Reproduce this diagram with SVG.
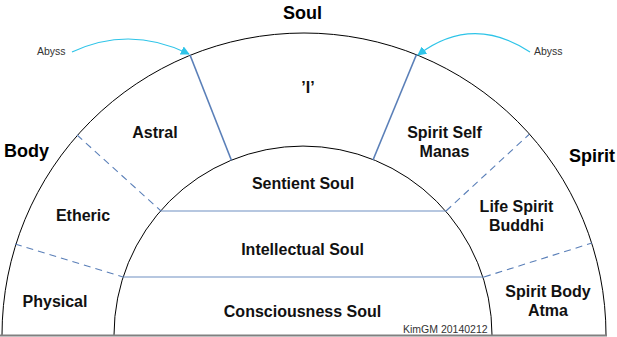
<svg xmlns="http://www.w3.org/2000/svg" width="617" height="337" viewBox="0 0 617 337">
<defs>
<marker id="ah" viewBox="0 0 10 10" refX="9" refY="5" markerWidth="9" markerHeight="9" markerUnits="userSpaceOnUse" orient="auto">
<path d="M0,0 L10,5 L0,10 z" fill="#2ec4e8"/>
</marker>
</defs>
<style>
.arc{fill:none;stroke:#000;stroke-width:1}
.solid{stroke:#5a7fb8;stroke-width:1.6;fill:none}
.hl{stroke:#6f8fc2;stroke-width:1.2;fill:none}
.dash{stroke:#5a7fb8;stroke-width:1.1;stroke-dasharray:7,5;fill:none}
.abyss{stroke:#2ec4e8;stroke-width:1.2;fill:none}
text{font-family:"Liberation Sans",Arial,sans-serif}
.lbl{font-size:16px;font-weight:bold;fill:#111;text-anchor:middle}
.ttl{font-size:18px;font-weight:bold;fill:#000;text-anchor:middle}
.sm{font-size:10.5px;fill:#333}
</style>
<rect width="617" height="337" fill="#fff"/>
<g id="connectors">
<path class="arc" d="M2,335 A302,302 0 0 1 606,335"/>
<path class="arc" d="M114,335 A189,189 0 0 1 492,335"/>
<line x1="0" y1="335.5" x2="607" y2="335.5" stroke="#808080" stroke-width="2"/>
<line class="solid" x1="190" y1="55" x2="231.5" y2="160.5"/>
<line class="solid" x1="416.5" y1="54.5" x2="373" y2="160"/>
<line class="hl" x1="161" y1="211" x2="446" y2="211"/>
<line class="hl" x1="123" y1="277" x2="484" y2="277"/>
<line class="dash" x1="77" y1="135" x2="161" y2="211"/>
<line class="dash" x1="15" y1="244" x2="123" y2="277"/>
<line class="dash" x1="446" y1="211" x2="529" y2="134.5"/>
<line class="dash" x1="484" y1="277" x2="592" y2="243"/>
<path class="abyss" d="M72,52 Q130,25 189,54" marker-end="url(#ah)"/>
<path class="abyss" d="M530,52 Q472,14 418,55" marker-end="url(#ah)"/>
</g>
<g id="titles">
<text class="ttl" x="302.5" y="18.5">Soul</text>
<text class="ttl" x="26.5" y="156.5">Body</text>
<text class="ttl" x="592" y="161.5">Spirit</text>
</g>
<g id="abyss-left"><text class="sm" x="37" y="55">Abyss</text></g>
<g id="abyss-right"><text class="sm" x="534" y="55">Abyss</text></g>
<g id="node-I"><text class="lbl" x="308" y="93">’I’</text></g>
<g id="node-astral"><text class="lbl" x="155" y="138">Astral</text></g>
<g id="node-etheric"><text class="lbl" x="83" y="221">Etheric</text></g>
<g id="node-physical"><text class="lbl" x="55" y="307">Physical</text></g>
<g id="node-sentient"><text class="lbl" x="303" y="189">Sentient Soul</text></g>
<g id="node-intellectual"><text class="lbl" x="302.5" y="255">Intellectual Soul</text></g>
<g id="node-consciousness"><text class="lbl" x="302.5" y="317">Consciousness Soul</text></g>
<g id="node-spiritself"><text class="lbl" x="444.5" y="138">Spirit Self</text><text class="lbl" x="444.5" y="157">Manas</text></g>
<g id="node-lifespirit"><text class="lbl" x="516.5" y="212">Life Spirit</text><text class="lbl" x="516.5" y="231">Buddhi</text></g>
<g id="node-spiritbody"><text class="lbl" x="548" y="297">Spirit Body</text><text class="lbl" x="548" y="316">Atma</text></g>
<g id="credit"><text class="sm" x="403" y="333">KimGM 20140212</text></g>
</svg>
